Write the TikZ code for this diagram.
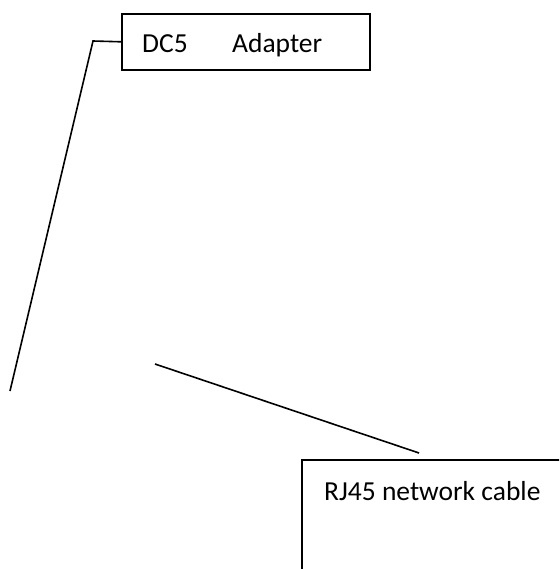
\documentclass[tikz,border=0pt]{standalone}
\usepackage{fontspec}
\setmainfont{Carlito}
\begin{document}
\begin{tikzpicture}[x=1pt,y=-1pt,
  boxstyle/.style={draw=black,line width=1.6pt,inner sep=0pt,anchor=north west},
  lbl/.style={inner sep=0pt,anchor=base west,font=\fontsize{27.5}{33}\selectfont},
  wire/.style={line width=1.6pt}]
\useasboundingbox (0,0) rectangle (559,569);
\clip (0,0) rectangle (559,569);
\node[boxstyle,minimum width=248pt,minimum height=56pt] (dc) at (121,13) {};
\node[lbl] (dct) at (142,53) {DC5};
\node[lbl] (adt) at (232,53) {Adapter};
\node[boxstyle,minimum width=270pt,minimum height=130pt] (rj) at (301,459) {};
\node[lbl] (rjt) at (324,500) {RJ45 network cable};
\coordinate (k1) at (93,41);
\coordinate (e1) at (10,391);
\coordinate (s2) at (155,364);
\coordinate (e2) at (419,453);
\draw[wire] (dc.west) -- (k1) -- (e1);
\draw[wire] (s2) -- (e2);
\end{tikzpicture}
\end{document}
